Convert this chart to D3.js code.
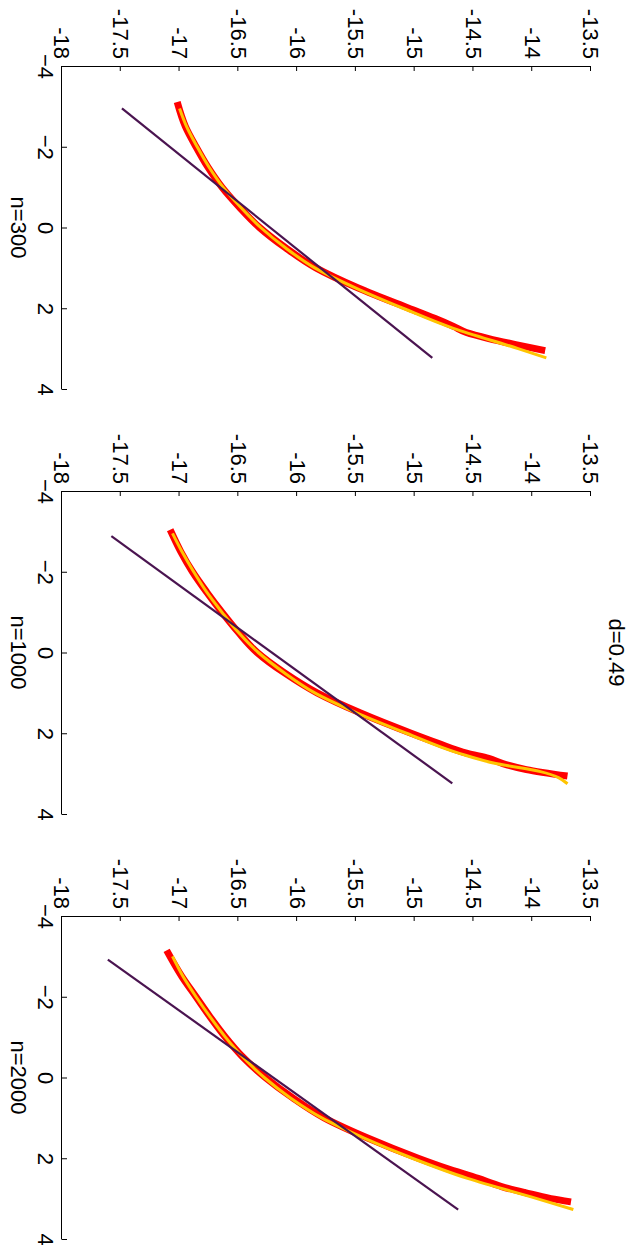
<!DOCTYPE html>
<html>
<head>
<meta charset="utf-8">
<script src="https://cdn.jsdelivr.net/npm/d3@7"></script>
<style>
  body { margin: 0; background: #fff; }
  text { font-family: "Liberation Sans", Arial, sans-serif; }
</style>
</head>
<body>
<div id="chart"></div>
<script>
const width = 631;
const height = 1247;

// Panel labels and title
const panelLabels = ["n=300", "n=1000", "n=2000"];
const title = "d=0.49";

// Tick values
const xTicks = [-4, -2, 0, 2, 4];
const yTicks = [-18, -17.5, -17, -16.5, -16, -15.5, -15, -14.5, -14, -13.5];

// Straight reference line (end points) for each panel
const lineX = [[-2.95, 3.23], [-2.88, 3.24], [-2.92, 3.27]];
const lineY = [[-17.49, -14.85], [-17.58, -14.68], [-17.61, -14.63]];

// Red empirical curve
const redX = [
  [-3.11, -2.5, -2, -1.5, -1, -0.5, 0, 0.5, 1, 1.5, 2, 2.25, 2.45, 2.6, 2.75, 2.9, 3.05],
  [-3.04, -2.5, -2, -1.5, -1, -0.5, 0, 0.5, 1, 1.5, 2, 2.25, 2.5, 2.62, 2.75, 2.9, 3.06],
  [-3.15, -2.5, -2, -1.5, -1, -0.5, 0, 0.5, 1, 1.5, 2, 2.25, 2.5, 2.7, 2.85, 3.0, 3.08]
];
const redY = [
  [-17.02, -16.95, -16.86, -16.76, -16.64, -16.49, -16.32, -16.10, -15.84, -15.48, -15.05, -14.83, -14.67, -14.56, -14.37, -14.14, -13.89],
  [-17.08, -16.99, -16.89, -16.77, -16.64, -16.50, -16.34, -16.11, -15.83, -15.46, -15.03, -14.80, -14.55, -14.37, -14.25, -14.05, -13.70],
  [-17.11, -16.98, -16.86, -16.74, -16.61, -16.46, -16.27, -16.04, -15.77, -15.40, -14.97, -14.73, -14.46, -14.26, -14.06, -13.84, -13.67]
];

// Yellow fitted curve
const yellowX = [
  [-2.95, -2.5, -2, -1.5, -1, -0.5, 0, 0.5, 1, 1.5, 2, 2.5, 3.0, 3.23],
  [-2.95, -2.5, -2, -1.5, -1, -0.5, 0, 0.5, 1, 1.5, 2, 2.5, 2.75, 2.95, 3.25],
  [-3.0, -2.5, -2, -1.5, -1, -0.5, 0, 0.5, 1, 1.5, 2, 2.5, 3.0, 3.27]
];
const yellowY = [
  [-17.0, -16.94, -16.85, -16.75, -16.63, -16.48, -16.31, -16.10, -15.85, -15.50, -15.10, -14.67, -14.12, -13.88],
  [-17.06, -16.98, -16.88, -16.77, -16.64, -16.50, -16.33, -16.11, -15.85, -15.49, -15.07, -14.62, -14.31, -13.93, -13.70],
  [-17.06, -16.97, -16.86, -16.74, -16.61, -16.46, -16.28, -16.06, -15.79, -15.43, -15.02, -14.55, -13.96, -13.65]
];

const svg = d3.select("#chart")
    .append("svg")
    .attr("width", width)
    .attr("height", height);

// The figure is drawn in its original landscape orientation, then turned 90 degrees clockwise
const fig = svg.append("g")
    .attr("transform", `translate(${width},0) rotate(90)`);

const panelTop = 66;      // along the original x direction
const panelLen = 323;
const panelStep = 425;
const fontSize = 22;

const y = d3.scaleLinear().domain([-18, -13.5]).range([569, 40]);

panelLabels.forEach((label, i) => {
    const x = d3.scaleLinear()
        .domain([-4, 4])
        .range([panelTop + i * panelStep, panelTop + i * panelStep + panelLen]);

    const g = fig.append("g");

    // axes (box off, ticks inward)
    const xAxis = g.append("g")
        .attr("transform", `translate(0,${y(-18)})`)
        .call(d3.axisBottom(x).tickValues(xTicks).tickSizeInner(-5).tickSizeOuter(0).tickPadding(8).tickFormat(d3.format("d")));
    const yAxis = g.append("g")
        .attr("transform", `translate(${x(-4)},0)`)
        .call(d3.axisLeft(y).tickValues(yTicks).tickSizeInner(-5).tickSizeOuter(0).tickPadding(7).tickFormat(d => d));

    [xAxis, yAxis].forEach(a => {
        a.selectAll("path, line").attr("stroke", "#000").attr("stroke-width", 1);
        a.selectAll("text").attr("font-size", fontSize).attr("fill", "#000")
            .attr("font-family", "'Liberation Sans', Arial, sans-serif");
    });

    const line = d3.line().x(d => x(d[0])).y(d => y(d[1])).curve(d3.curveMonotoneX);

    g.append("path")
        .datum(d3.zip(redX[i], redY[i]))
        .attr("d", line)
        .attr("fill", "none")
        .attr("stroke", "#ff0000")
        .attr("stroke-width", 7);

    g.append("path")
        .datum(d3.zip(yellowX[i], yellowY[i]))
        .attr("d", line)
        .attr("fill", "none")
        .attr("stroke", "#ffc400")
        .attr("stroke-width", 3);

    g.append("path")
        .datum(d3.zip(lineX[i], lineY[i]))
        .attr("d", d3.line().x(d => x(d[0])).y(d => y(d[1])))
        .attr("fill", "none")
        .attr("stroke", "#4a1450")
        .attr("stroke-width", 2.2);

    // panel label under the x axis
    g.append("text")
        .attr("x", x(0))
        .attr("y", 620)
        .attr("text-anchor", "middle")
        .attr("font-size", fontSize)
        .text(label);

    // title above the middle panel
    if (i === 1) {
        g.append("text")
            .attr("x", x(0))
            .attr("y", 22)
            .attr("text-anchor", "middle")
            .attr("font-size", fontSize)
            .text(title);
    }
});
</script>
</body>
</html>
